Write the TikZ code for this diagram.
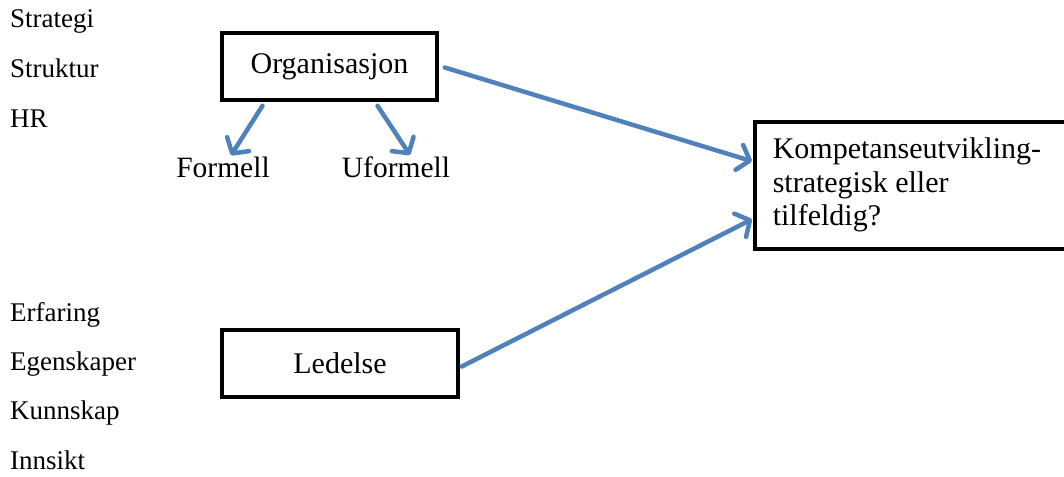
\documentclass[tikz,border=0pt]{standalone}
\usepackage{fontspec}
\setmainfont{Liberation Serif}
\usetikzlibrary{arrows.meta}
\definecolor{arrowblue}{HTML}{4F81BD}
\tikzset{
  listlabel/.style={anchor=base west, inner sep=0pt, font=\fontsize{27}{30}\selectfont},
  leaf/.style={anchor=base, inner sep=0pt, font=\fontsize{29.5}{33}\selectfont},
  boxnode/.style={draw=black, line width=3.5pt, inner sep=0pt, font=\fontsize{30}{33}\selectfont},
  flow/.style={draw=arrowblue, line width=4.5pt, line cap=round,
    -{Straight Barb[length=11pt,width=26pt,line cap=round,line join=round]}}
}
\begin{document}
\begin{tikzpicture}[x=1pt,y=-1pt]
  \useasboundingbox (0,0) rectangle (1064,476);
  \clip (0,0) rectangle (1064,476);

  % factors on the left
  \node[listlabel] (strategi) at (10,28) {Strategi};
  \node[listlabel] (struktur) at (10,78) {Struktur};
  \node[listlabel] (hr) at (10,128) {HR};
  \node[listlabel] (erfaring) at (10,321) {Erfaring};
  \node[listlabel] (egenskaper) at (10,370) {Egenskaper};
  \node[listlabel] (kunnskap) at (10,419) {Kunnskap};
  \node[listlabel] (innsikt) at (10,469) {Innsikt};

  % boxes
  \node[boxnode, minimum width=215pt, minimum height=67pt] (org) at (329.5,66.5) {Organisasjon};
  \node[boxnode, minimum width=236pt, minimum height=67pt] (led) at (340,363.5) {Ledelse};
  \node[boxnode, anchor=north west, minimum height=127pt, text width=282pt,
        inner xsep=18pt, align=flush left,
        font=\fontsize{30}{33.5}\selectfont] (komp) at (753,120)
        {Kompetanseutvikling-\\strategisk eller\\tilfeldig?};

  % informal / formal
  \node[leaf] (formell) at (223,177) {Formell};
  \node[leaf] (uformell) at (396,177) {Uformell};

  % connectors
  \draw[flow] ([xshift=-67pt,yshift=-4pt]org.south) -- ([xshift=8pt,yshift=1pt]formell.north);
  \draw[flow] ([xshift=48pt,yshift=-4pt]org.south) -- ([xshift=14pt,yshift=1pt]uformell.north);
  \draw[flow] ([xshift=6pt,yshift=-1pt]org.east) -- ([xshift=-1pt,yshift=24pt]komp.west);
  \draw[flow] ([xshift=2pt,yshift=-3pt]led.east) -- ([xshift=-1pt,yshift=-34pt]komp.west);
\end{tikzpicture}
\end{document}
